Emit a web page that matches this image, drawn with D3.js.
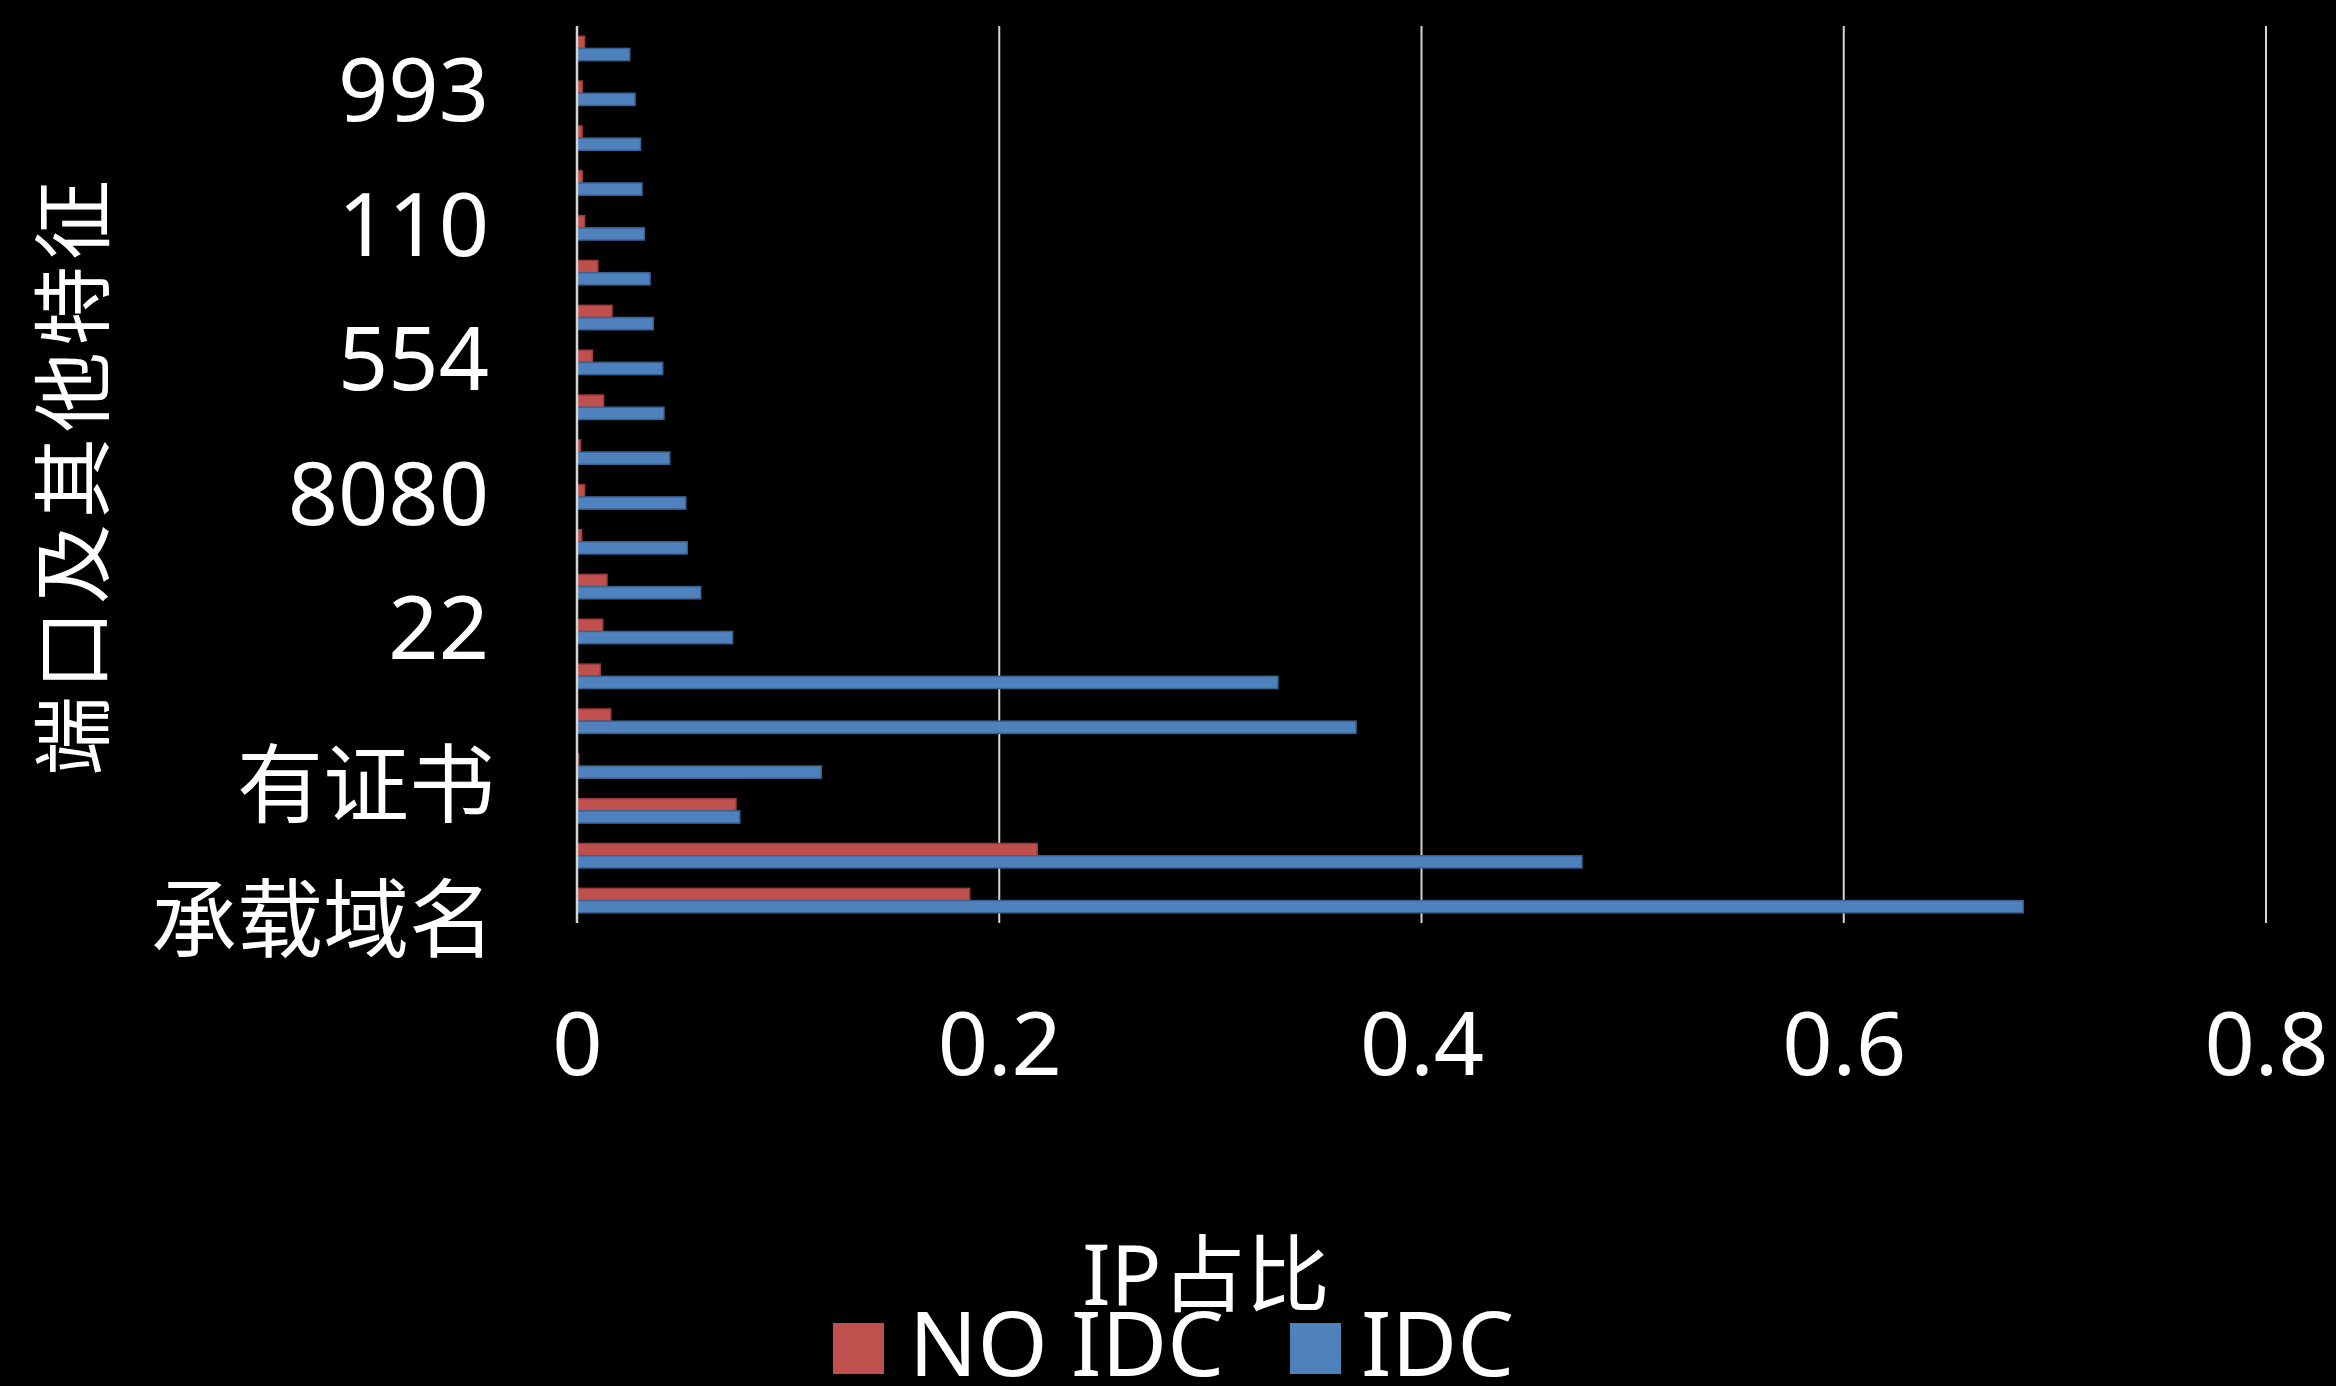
<!DOCTYPE html>
<html>
<head>
<meta charset="utf-8">
<script src="https://cdn.jsdelivr.net/npm/d3@7"></script>
<style>
  html, body { margin: 0; padding: 0; background: #000; }
  svg { display: block; }
  text { fill: #fff; font-family: 'Noto Sans', 'Noto Sans CJK SC', sans-serif; }
</style>
</head>
<body>
<svg id="chart" width="2336" height="1386"></svg>
<script>
// Categories listed bottom → top; only every third one carries a visible label.
const tickLabels = [
  "承载域名", "", "", "有证书", "", "", "22", "", "", "8080",
  "", "", "554", "", "", "110", "", "", "993", ""
];
const seriesNames = ["NO IDC", "IDC"];
const noIdcShare = [
  0.186, 0.218, 0.0753, 0.0008, 0.016, 0.011, 0.0122, 0.0142, 0.0022, 0.0036,
  0.0017, 0.0126, 0.0073, 0.0166, 0.0099, 0.0036, 0.0025, 0.0024, 0.0025, 0.0036
];
const idcShare = [
  0.685, 0.476, 0.0771, 0.1157, 0.369, 0.332, 0.0737, 0.0586, 0.0522, 0.0515,
  0.0439, 0.0412, 0.0406, 0.0361, 0.0346, 0.0319, 0.0308, 0.0301, 0.0275, 0.025
];
const xTicks = [0, 0.2, 0.4, 0.6, 0.8];
const xTitle = "IP占比";
const yTitle = "端口及其他特征";

const fills = { "NO IDC": "#C0504D", "IDC": "#4F81BD" };
const strokes = { "NO IDC": "#9A3C3A", "IDC": "#3A6291" };

const svg = d3.select("#chart");
const plot = { left: 577, right: 2266, top: 26, bottom: 923 };

const x = d3.scaleLinear().domain([0, 0.8]).range([plot.left, plot.right]);
const idx = d3.range(tickLabels.length);
const y0 = d3.scaleBand()
  .domain(idx)
  .range([plot.bottom, plot.top])
  .paddingInner(0.456)
  .paddingOuter(0.228);
const y1 = d3.scaleBand().domain(seriesNames).range([0, y0.bandwidth()]);

const rows = idx.map(i => ({ i, values: [
  { key: "NO IDC", v: noIdcShare[i] },
  { key: "IDC", v: idcShare[i] }
]}));

// vertical gridlines
svg.append("g").selectAll("line")
  .data(xTicks.filter(t => t > 0))
  .join("line")
  .attr("x1", d => x(d)).attr("x2", d => x(d))
  .attr("y1", plot.top).attr("y2", plot.bottom)
  .attr("stroke", "#d4d4d4").attr("stroke-width", 2);

// bars
svg.append("g").selectAll("g")
  .data(rows)
  .join("g")
  .attr("transform", d => `translate(0,${y0(d.i)})`)
  .selectAll("rect")
  .data(d => d.values)
  .join("rect")
  .attr("x", x(0))
  .attr("y", d => y1(d.key))
  .attr("width", d => Math.max(0, x(d.v) - x(0)))
  .attr("height", y1.bandwidth())
  .attr("fill", d => fills[d.key])
  .attr("stroke", d => strokes[d.key])
  .attr("stroke-width", 1.5);

// category axis line
svg.append("line")
  .attr("x1", x(0)).attr("x2", x(0))
  .attr("y1", plot.top).attr("y2", plot.bottom)
  .attr("stroke", "#d4d4d4").attr("stroke-width", 2.5);

// x axis tick labels
const xAxis = d3.axisBottom(x).tickValues(xTicks).tickSize(0).tickFormat(d3.format("~g"));
const gx = svg.append("g").attr("transform", `translate(0,${plot.bottom})`).call(xAxis);
gx.select(".domain").remove();
gx.selectAll("text")
  .attr("y", 0).attr("dy", null)
  .attr("transform", "translate(0,152)")
  .attr("font-size", 88)
  .attr("font-family", "'Noto Sans', 'Noto Sans CJK SC', sans-serif")
  .attr("fill", "#fff");

// y axis tick labels
const isCJK = s => /[\u4e00-\u9fff]/.test(s);
const yAxis = d3.axisLeft(y0).tickSize(0).tickFormat(i => tickLabels[i]);
const gy = svg.append("g").attr("transform", `translate(489,0)`).call(yAxis);
gy.select(".domain").remove();
gy.selectAll("text")
  .attr("x", i => isCJK(tickLabels[i]) ? 6 : 0)
  .attr("dy", null)
  .attr("text-anchor", "end")
  .attr("font-family", "'Noto Sans', 'Noto Sans CJK SC', sans-serif")
  .attr("font-size", i => isCJK(tickLabels[i]) ? 86 : 88)
  .attr("y", i => isCJK(tickLabels[i]) ? 50 : 28)
  .attr("fill", "#fff");

// axis titles
svg.append("text")
  .attr("x", 1206).attr("y", 1305)
  .attr("text-anchor", "middle")
  .attr("font-size", 84)
  .text(xTitle);

svg.append("text")
  .attr("transform", "translate(102,475) rotate(-90)")
  .attr("text-anchor", "middle")
  .attr("font-size", 80)
  .attr("letter-spacing", 6)
  .text(yTitle);

// legend
const legendItems = [
  { key: "NO IDC", sx: 833, tx: 909 },
  { key: "IDC", sx: 1290, tx: 1361 }
];
const lg = svg.append("g");
lg.selectAll("rect").data(legendItems).join("rect")
  .attr("x", d => d.sx).attr("y", 1323)
  .attr("width", 51).attr("height", 51)
  .attr("fill", d => fills[d.key]);
lg.selectAll("text").data(legendItems).join("text")
  .attr("x", d => d.tx).attr("y", 1376)
  .attr("font-size", 90)
  .text(d => d.key);
</script>
</body>
</html>
